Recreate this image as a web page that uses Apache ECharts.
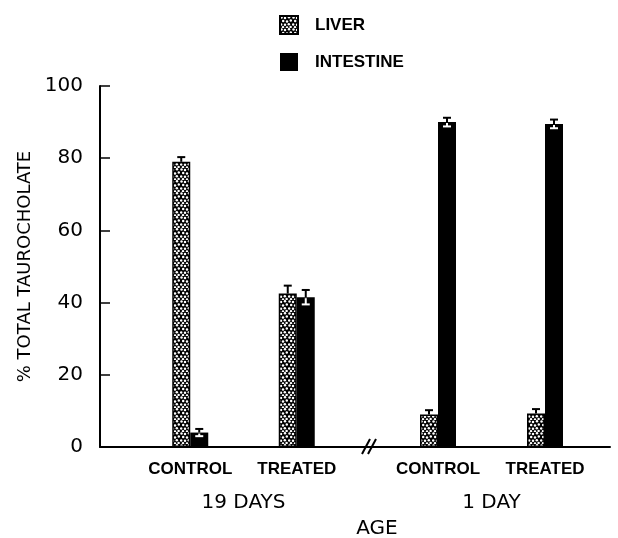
<!DOCTYPE html>
<html>
<head>
<meta charset="utf-8">
<script src="https://cdn.jsdelivr.net/npm/echarts@6/dist/echarts.min.js"></script>
<style>
  html, body { margin: 0; padding: 0; background: #fff; }
  #chart { width: 618px; height: 538px; }
</style>
</head>
<body>
<div id="chart"></div>
<script>
// data
const categories = ['CONTROL', 'TREATED']
const ageGroups = ['19 DAYS', '1 DAY']
const liver = [79, 42.5, 9, 9.3]
const liverErr = [1.3, 2.2, 1.2, 1.2]
const intestine = [4, 41.5, 90, 89.5]
const intestineErr = [1, 2, 1.2, 1.2]
const yMin = 0
const yMax = 100
const yStep = 20

const FONT = 'DejaVu Sans'
const LABEL_FONT = 'Liberation Sans'
const INK = '#000'
const BAR_W = 18

// stippled fill for the liver bars
function stipple() {
  const c = document.createElement('canvas')
  c.width = 12
  c.height = 12
  const ctx = c.getContext('2d')
  ctx.fillStyle = INK
  ctx.fillRect(0, 0, 12, 12)
  ctx.fillStyle = '#fff'
  const dots = [[1.5, 1.5], [5, 2], [9, 1.2], [3.2, 5], [7, 5.5], [10.8, 4.6],
    [1.2, 8.5], [5, 8.8], [8.8, 8.2], [3, 11.2], [7, 11.5], [10.6, 11]]
  dots.forEach(([x, y]) => {
    ctx.beginPath()
    ctx.arc(x, y, 1.25, 0, Math.PI * 2)
    ctx.fill()
  })
  return c
}
const liverFill = { image: stipple(), repeat: 'repeat' }

const plotTop = 86
const plotBottom = 91

const grids = [
  { left: 100, right: 8, top: plotTop, bottom: plotBottom },   // frame
  { left: 137, width: 213, top: plotTop, bottom: plotBottom },  // 19 days
  { left: 384.5, width: 214, top: plotTop, bottom: plotBottom } // 1 day
]

const xAxes = [
  {
    gridIndex: 0, type: 'value', min: 0, max: 1,
    axisLine: { show: true, lineStyle: { color: INK, width: 2 } },
    axisTick: { show: false }, axisLabel: { show: false }, splitLine: { show: false }
  }
]
const yAxes = [
  {
    gridIndex: 0, type: 'value', min: yMin, max: yMax, interval: yStep,
    name: '% TOTAL TAUROCHOLATE',
    nameLocation: 'middle',
    nameGap: 59,
    nameTextStyle: { fontFamily: FONT, fontSize: 18, color: INK },
    axisLine: { show: true, lineStyle: { color: INK, width: 2 } },
    axisTick: { show: true, inside: true, length: 10, lineStyle: { color: INK, width: 1.5 } },
    axisLabel: { fontFamily: FONT, fontSize: 20, color: INK, margin: 17 },
    splitLine: { show: false }
  }
]

ageGroups.forEach((age, g) => {
  xAxes.push({
    gridIndex: g + 1, type: 'category', data: categories,
    name: age, nameLocation: 'middle', nameGap: 46,
    nameTextStyle: { fontFamily: FONT, fontSize: 20, color: INK },
    axisLine: { show: false }, axisTick: { show: false },
    axisLabel: { interval: 0, fontFamily: LABEL_FONT, fontSize: 17, fontWeight: 'bold', color: INK, margin: 14 }
  })
  yAxes.push({
    gridIndex: g + 1, type: 'value', min: yMin, max: yMax, show: false,
    splitLine: { show: false }
  })
})

const series = []
ageGroups.forEach((age, g) => {
  const idx = [2 * g, 2 * g + 1]
  series.push({
    name: 'LIVER', type: 'bar', xAxisIndex: g + 1, yAxisIndex: g + 1,
    barWidth: BAR_W, barGap: '0%',
    data: idx.map(i => liver[i]),
    itemStyle: { color: liverFill, borderColor: INK, borderWidth: 1.5 }
  })
  series.push({
    name: 'INTESTINE', type: 'bar', xAxisIndex: g + 1, yAxisIndex: g + 1,
    barWidth: BAR_W, barGap: '0%',
    data: idx.map(i => intestine[i]),
    itemStyle: { color: INK }
  })
  // error bars: [category, value, err, side]
  const errData = []
  idx.forEach((i, k) => {
    errData.push([k, liver[i], liverErr[i], 0])
    errData.push([k, intestine[i], intestineErr[i], 1])
  })
  series.push({
    type: 'custom', xAxisIndex: g + 1, yAxisIndex: g + 1,
    silent: true, z: 5,
    data: errData,
    renderItem(params, api) {
      const cat = api.value(0)
      const v = api.value(1)
      const e = api.value(2)
      const side = api.value(3)
      const dx = side === 0 ? -BAR_W / 2 : BAR_W / 2
      const top = api.coord([cat, v])
      const hi = api.coord([cat, v + e])
      const lo = api.coord([cat, v - e])
      const x = top[0] + dx
      const kids = [
        { type: 'line', shape: { x1: x, y1: top[1], x2: x, y2: hi[1] }, style: { stroke: INK, lineWidth: 2 } },
        { type: 'line', shape: { x1: x - 4, y1: hi[1], x2: x + 4, y2: hi[1] }, style: { stroke: INK, lineWidth: 2 } }
      ]
      if (side === 1) {
        kids.push({ type: 'line', shape: { x1: x, y1: top[1] + 1, x2: x, y2: lo[1] }, style: { stroke: '#fff', lineWidth: 2 } })
        kids.push({ type: 'line', shape: { x1: x - 4, y1: lo[1], x2: x + 4, y2: lo[1] }, style: { stroke: '#fff', lineWidth: 2 } })
      }
      return { type: 'group', children: kids }
    }
  })
})

const chart = echarts.init(document.getElementById('chart'), null, { renderer: 'canvas' })
chart.setOption({
  backgroundColor: '#fff',
  animation: false,
  title: {
    text: 'AGE', left: 372, top: 514, textAlign: 'center',
    textStyle: { fontFamily: FONT, fontSize: 20, fontWeight: 'normal', color: INK }
  },
  legend: {
    data: [{ name: 'LIVER', icon: 'rect' }, { name: 'INTESTINE', icon: 'rect' }],
    orient: 'vertical', left: 274, top: 10,
    itemWidth: 18, itemHeight: 18, itemGap: 18,
    textStyle: { fontFamily: LABEL_FONT, fontSize: 17, fontWeight: 'bold', color: INK, padding: [0, 0, 0, 12] }
  },
  grid: grids,
  xAxis: xAxes,
  yAxis: yAxes,
  series: series,
  graphic: [
    // axis break mark
    { type: 'line', shape: { x1: 362, y1: 454, x2: 370, y2: 439 }, style: { stroke: INK, lineWidth: 2 }, z: 10 },
    { type: 'line', shape: { x1: 368, y1: 454, x2: 376, y2: 439 }, style: { stroke: INK, lineWidth: 2 }, z: 10 }
  ]
})
</script>
</body>
</html>
